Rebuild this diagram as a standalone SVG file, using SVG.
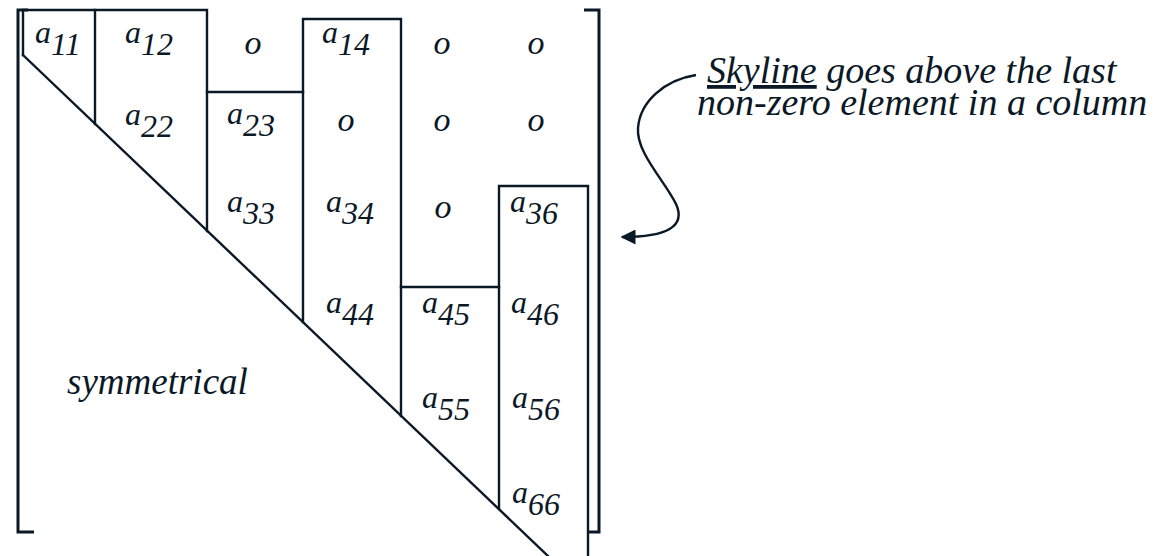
<svg xmlns="http://www.w3.org/2000/svg" width="1162" height="556" viewBox="0 0 1162 556">
  <style>
    .ln { fill: none; stroke: #0b1826; stroke-width: 2.4; stroke-linecap: square; }
    .br { fill: none; stroke: #0b1826; stroke-width: 3; }
    .cn { fill: none; stroke: #0b1826; stroke-width: 2.4; }
    .t { font-family: 'Liberation Serif', 'Times New Roman', serif; font-style: italic; font-size: 32px; fill: #0b1826; }
    .o { font-family: 'Liberation Serif', 'Times New Roman', serif; font-style: italic; font-size: 34px; fill: #0b1826; text-anchor: middle; }
    .sym { font-family: 'Liberation Serif', 'Times New Roman', serif; font-style: italic; font-size: 37px; fill: #0b1826; }
    .note { font-family: 'Liberation Serif', 'Times New Roman', serif; font-style: italic; font-size: 38px; fill: #0b1826; }
  </style>
  <defs>
    <marker id="ah" viewBox="0 0 10 10" refX="9" refY="5" markerWidth="24" markerHeight="15" markerUnits="userSpaceOnUse" orient="auto">
      <path d="M0,0 L10,5 L0,10 Z" fill="#0b1826"/>
    </marker>
  </defs>
  <rect width="1162" height="556" fill="#ffffff"/>

  <g id="brackets">
    <path class="br" d="M28,10 H18 V532 H34"/>
    <path class="br" d="M584,10 H599 V532 H588"/>
  </g>

  <g id="skyline">
    <path class="ln" d="M23,55 V10 H207 V231"/>
    <path class="ln" d="M95,10 V124"/>
    <path class="ln" d="M207,92 H303"/>
    <path class="ln" d="M303,322 V19 H401 V416"/>
    <path class="ln" d="M401,287 H499"/>
    <path class="ln" d="M499,509 V186 H588 V556"/>
    <path class="ln" d="M23,55 L548,556"/>
  </g>

  <g id="row1">
    <text class="t" x="35" y="43" font-family="'Liberation Serif', serif" font-style="italic">a<tspan dy="12">11</tspan></text>
    <text class="t" x="125" y="43" font-family="'Liberation Serif', serif" font-style="italic">a<tspan dy="12">12</tspan></text>
    <text class="o" x="253" y="54" font-family="'Liberation Serif', serif" font-style="italic">o</text>
    <text class="t" x="322" y="43" font-family="'Liberation Serif', serif" font-style="italic">a<tspan dy="12">14</tspan></text>
    <text class="o" x="442" y="54" font-family="'Liberation Serif', serif" font-style="italic">o</text>
    <text class="o" x="536" y="54" font-family="'Liberation Serif', serif" font-style="italic">o</text>
  </g>
  <g id="row2">
    <text class="t" x="125" y="125" font-family="'Liberation Serif', serif" font-style="italic">a<tspan dy="12">22</tspan></text>
    <text class="t" x="227" y="124" font-family="'Liberation Serif', serif" font-style="italic">a<tspan dy="12">23</tspan></text>
    <text class="o" x="346" y="131" font-family="'Liberation Serif', serif" font-style="italic">o</text>
    <text class="o" x="442" y="131" font-family="'Liberation Serif', serif" font-style="italic">o</text>
    <text class="o" x="536" y="131" font-family="'Liberation Serif', serif" font-style="italic">o</text>
  </g>
  <g id="row3">
    <text class="t" x="227" y="212" font-family="'Liberation Serif', serif" font-style="italic">a<tspan dy="12">33</tspan></text>
    <text class="t" x="326" y="212" font-family="'Liberation Serif', serif" font-style="italic">a<tspan dy="12">34</tspan></text>
    <text class="o" x="443" y="218" font-family="'Liberation Serif', serif" font-style="italic">o</text>
    <text class="t" x="510" y="212" font-family="'Liberation Serif', serif" font-style="italic">a<tspan dy="12">36</tspan></text>
  </g>
  <g id="row4">
    <text class="t" x="326" y="313" font-family="'Liberation Serif', serif" font-style="italic">a<tspan dy="12">44</tspan></text>
    <text class="t" x="422" y="313" font-family="'Liberation Serif', serif" font-style="italic">a<tspan dy="12">45</tspan></text>
    <text class="t" x="511" y="313" font-family="'Liberation Serif', serif" font-style="italic">a<tspan dy="12">46</tspan></text>
  </g>
  <g id="row5">
    <text class="t" x="422" y="408" font-family="'Liberation Serif', serif" font-style="italic">a<tspan dy="12">55</tspan></text>
    <text class="t" x="512" y="408" font-family="'Liberation Serif', serif" font-style="italic">a<tspan dy="12">56</tspan></text>
  </g>
  <g id="row6">
    <text class="t" x="512" y="503" font-family="'Liberation Serif', serif" font-style="italic">a<tspan dy="12">66</tspan></text>
  </g>

  <g id="symmetrical">
    <text class="sym" x="67" y="394" font-family="'Liberation Serif', serif" font-style="italic">symmetrical</text>
  </g>

  <g id="annotation">
    <text class="note" x="707" y="83" font-family="'Liberation Serif', serif" font-style="italic"><tspan text-decoration="underline">Skyline</tspan> goes above the last</text>
    <text class="note" x="697" y="115" font-family="'Liberation Serif', serif" font-style="italic">non-zero element in a column</text>
  </g>

  <g id="connectors">
    <path class="cn" d="M696,75 C664,80 640,102 638,128 C636,152 664,180 676,204 C686,226 668,237 622,237" marker-end="url(#ah)"/>
  </g>
</svg>
